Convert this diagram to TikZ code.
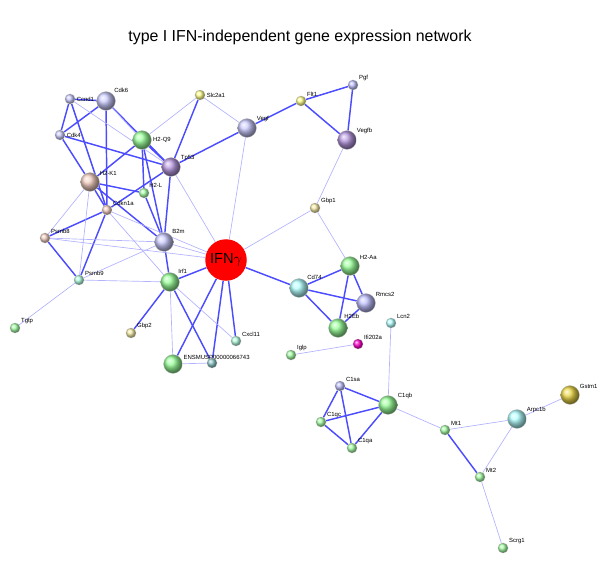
\documentclass[tikz,border=0pt]{standalone}
\usepackage{fontspec}
\setsansfont{Liberation Sans}
\usepackage{tikz}
\usetikzlibrary{positioning, backgrounds}

\begin{document}
\begin{tikzpicture}[
  x=0.0265cm, y=-0.0265cm,
  gene/.style={
    circle,
    ball color=#1,
    draw=black!25,
    line width=0.2pt,
    minimum size=0.27cm,
    inner sep=0pt
  },
  big/.style={minimum size=0.5cm},
  lbl/.style={font=\fontsize{4.5}{5}\sffamily, inner sep=1pt},
  strong/.style={line width=1.1pt, draw=blue!70!white},
  weak/.style={line width=0.5pt, draw=blue!30}
]
\useasboundingbox (0,0) rectangle (600,570);
\node[font=\sffamily\fontsize{12}{14}\selectfont] (title) at (300,37) {type I IFN-independent gene expression network};

% Cell cycle cluster
\node[gene=blue!20, label={[lbl]0:Ccnd1}] (ccnd1) at (70,99) {};
\node[gene=blue!20, big, label={[lbl]45:Cdk6}] (cdk6) at (106,101) {};
\node[gene=blue!20, label={[lbl]0:Cdk4}] (cdk4) at (60,135) {};
\node[gene=green!40, big, label={[lbl]0:H2-Q9}] (h2q9) at (142,140) {};
\node[gene=blue!40!violet!40, big, label={[lbl]30:Tp53}] (tp53) at (171,167) {};
\node[gene=red!30!brown!30, big, label={[lbl]30:H2-K1}] (h2k1) at (90,182) {};
\node[gene=green!35, label={[lbl]45:H2-L}] (h2l) at (144,193) {};
\node[gene=red!30!brown!30, label={[lbl]30:Cdkn1a}] (cdkn1a) at (107,210) {};
\node[gene=red!30!brown!30, label={[lbl]30:Psmb8}] (psmb8) at (45,238) {};
\node[gene=blue!20, big, label={[lbl]45:B2m}] (b2m) at (164,242) {};
\node[gene=green!40!cyan!30, label={[lbl]30:Psmb9}] (psmb9) at (79,280) {};
\node[gene=green!40, big, label={[lbl]45:Irf1}] (irf1) at (170,282) {};
\node[gene=green!35, label={[lbl]30:Tgtp}] (tgtp) at (15,328) {};
\node[gene=yellow!60!brown!40, label={[lbl]30:Gbp2}] (gbp2) at (131,333) {};
\node[gene=green!40!cyan!30, label={[lbl]30:Cxcl11}] (cxcl11) at (236,341) {};
\node[gene=green!40, big, label={[lbl,anchor=south west]20:ENSMUSP00000066743}] (ensmusp) at (173,364) {};
\node[gene=teal!45] (ensb) at (212,363) {};

% Central gene
\node[circle, fill=red, minimum size=1.1cm, inner sep=0pt, font=\sffamily\fontsize{11}{12}\selectfont] (ifng) at (226,260) {IFN$\gamma$};

% Angiogenesis
\node[gene=yellow!45, label={[lbl]0:Slc2a1}] (slc2a1) at (200,95) {};
\node[gene=blue!20, big, label={[lbl]30:Vegf}] (vegf) at (247,128) {};
\node[gene=yellow!45, label={[lbl]30:Flt1}] (flt1) at (301,101) {};
\node[gene=blue!25, label={[lbl]30:Pgf}] (pgf) at (353,85) {};
\node[gene=blue!40!violet!40, big, label={[lbl]30:Vegfb}] (vegfb) at (347,140) {};
\node[gene=yellow!60!brown!40, label={[lbl]30:Gbp1}] (gbp1) at (315,208) {};

% MHC class II
\node[gene=green!40, big, label={[lbl]30:H2-Aa}] (h2aa) at (350,266) {};
\node[gene=cyan!30, big, label={[lbl]45:Cd74}] (cd74) at (299,288) {};
\node[gene=blue!25, big, label={[lbl]30:Rmcs2}] (rmcs2) at (366,303) {};
\node[gene=green!40, big, label={[lbl]60:H2Eb}] (h2eb) at (338,328) {};
\node[gene=cyan!30, label={[lbl]30:Lcn2}] (lcn2) at (391,323) {};
\node[gene=magenta!80!red, label={[lbl]30:Ifi202a}] (ifi202a) at (358,344) {};
\node[gene=green!35, label={[lbl]30:Iglp}] (iglp) at (291,355) {};

% Complement and metallothioneins
\node[gene=blue!25, label={[lbl]30:C1sa}] (c1sa) at (340,386) {};
\node[gene=green!40, big, label={[lbl]30:C1qb}] (c1qb) at (388,405) {};
\node[gene=green!35, label={[lbl]30:C1qc}] (c1qc) at (321,422) {};
\node[gene=green!35, label={[lbl]30:C1qa}] (c1qa) at (352,448) {};
\node[gene=green!35, label={[lbl]30:Mt1}] (mt1) at (445,430) {};
\node[gene=cyan!30, big, label={[lbl]30:Arpc1b}] (arpc1b) at (517,419) {};
\node[gene=yellow!60!brown!80, big, label={[lbl]30:Gstm1}] (gstm1) at (570,395) {};
\node[gene=green!35, label={[lbl]30:Mt2}] (mt2) at (480,477) {};
\node[gene=green!35, label={[lbl]30:Scrg1}] (scrg1) at (503,548) {};

\begin{scope}[on background layer]
% Strong links
\draw[strong] (ccnd1) -- (cdk6);
\draw[strong] (ccnd1) -- (cdk4);
\draw[strong] (ccnd1) -- (cdkn1a);
\draw[strong] (cdk6) -- (cdk4);
\draw[strong] (cdk6) -- (cdkn1a);
\draw[strong] (cdk6) -- (tp53);
\draw[strong] (cdk4) -- (tp53);
\draw[strong] (cdk4) -- (h2k1);
\draw[strong] (h2q9) -- (h2k1);
\draw[strong] (h2q9) -- (b2m);
\draw[strong] (h2q9) -- (h2l);
\draw[strong] (h2q9) -- (tp53);
\draw[strong] (tp53) -- (cdkn1a);
\draw[strong] (tp53) -- (b2m);
\draw[strong] (tp53) -- (slc2a1);
\draw[strong] (tp53) -- (vegf);
\draw[strong] (h2k1) -- (b2m);
\draw[strong] (h2k1) -- (h2l);
\draw[strong] (h2k1) -- (cdkn1a);
\draw[strong] (h2l) -- (b2m);
\draw[strong] (cdkn1a) -- (psmb8);
\draw[strong] (cdkn1a) -- (psmb9);
\draw[strong] (psmb8) -- (psmb9);
\draw[strong] (b2m) -- (irf1);
\draw[strong] (irf1) -- (ifng);
\draw[strong] (irf1) -- (gbp2);
\draw[strong] (irf1) -- (ensb);
\draw[strong] (ifng) -- (ensmusp);
\draw[strong] (ifng) -- (ensb);
\draw[strong] (ifng) -- (cxcl11);
\draw[strong] (ifng) -- (cd74);
\draw[strong] (vegf) -- (flt1);
\draw[strong] (flt1) -- (pgf);
\draw[strong] (flt1) -- (vegfb);
\draw[strong] (pgf) -- (vegfb);
\draw[strong] (cd74) -- (h2aa);
\draw[strong] (cd74) -- (rmcs2);
\draw[strong] (cd74) -- (h2eb);
\draw[strong] (h2aa) -- (rmcs2);
\draw[strong] (h2aa) -- (h2eb);
\draw[strong] (rmcs2) -- (h2eb);
\draw[strong] (c1sa) -- (c1qb);
\draw[strong] (c1sa) -- (c1qc);
\draw[strong] (c1sa) -- (c1qa);
\draw[strong] (c1qb) -- (c1qc);
\draw[strong] (c1qb) -- (c1qa);
\draw[strong] (c1qc) -- (c1qa);
\draw[strong] (mt1) -- (mt2);

% Weak links
\draw[weak] (ccnd1) -- (tp53);
\draw[weak] (cdk6) -- (h2q9);
\draw[weak] (h2k1) -- (psmb8);
\draw[weak] (h2k1) -- (psmb9);
\draw[weak] (cdkn1a) -- (irf1);
\draw[weak] (cdkn1a) -- (ifng);
\draw[weak] (psmb8) -- (b2m);
\draw[weak] (psmb8) -- (ifng);
\draw[weak] (psmb9) -- (irf1);
\draw[weak] (psmb9) -- (b2m);
\draw[weak] (psmb9) -- (tgtp);
\draw[weak] (b2m) -- (ifng);
\draw[weak] (tp53) -- (ifng);
\draw[weak] (slc2a1) -- (h2q9);
\draw[weak] (slc2a1) -- (vegf);
\draw[weak] (vegf) -- (ifng);
\draw[weak] (vegfb) -- (gbp1);
\draw[weak] (gbp1) -- (ifng);
\draw[weak] (gbp1) -- (h2aa);
\draw[weak] (irf1) -- (ensmusp);
\draw[weak] (irf1) -- (cxcl11);
\draw[weak] (ensmusp) -- (ensb);
\draw[weak] (iglp) -- (ifi202a);
\draw[weak] (lcn2) -- (c1qb);
\draw[weak] (c1qb) -- (mt1);
\draw[weak] (mt1) -- (arpc1b);
\draw[weak] (arpc1b) -- (mt2);
\draw[weak] (arpc1b) -- (gstm1);
\draw[weak] (mt2) -- (scrg1);
\end{scope}
\end{tikzpicture}
\end{document}
